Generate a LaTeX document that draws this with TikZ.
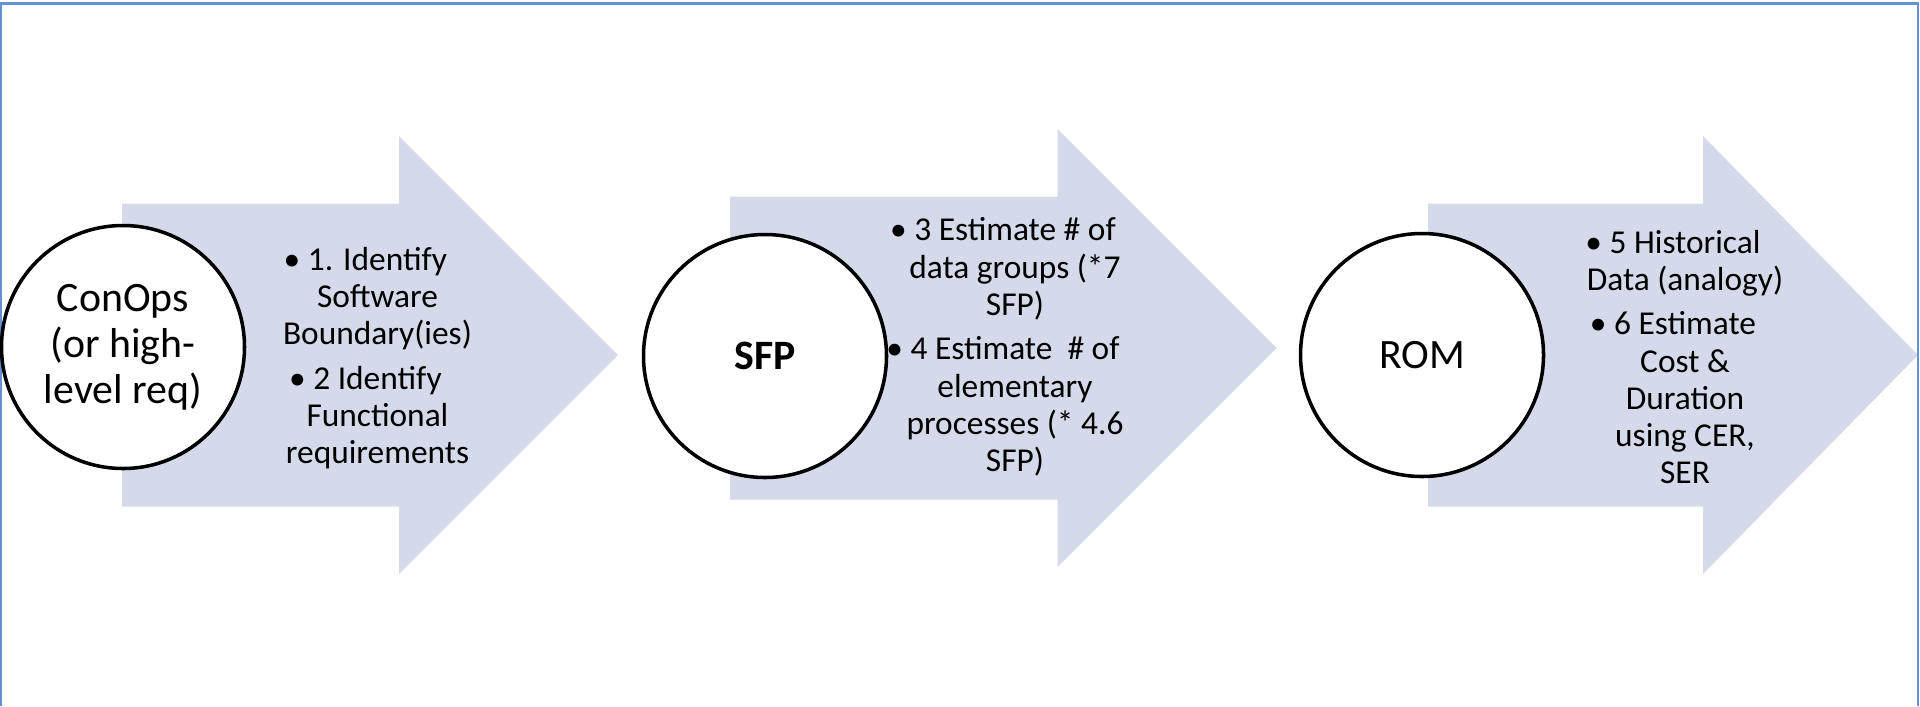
\documentclass[tikz,border=0pt]{standalone}
\usepackage{fontspec}
\setmainfont{Carlito}
\usetikzlibrary{positioning}
\definecolor{framecol}{RGB}{100,145,210}
\definecolor{arrowcol}{RGB}{212,218,234}
\newcommand{\steptext}{\fontsize{9.5}{10.6}\selectfont}
\newcommand{\stagetext}{\fontsize{11.9}{13.1}\selectfont}
\newcommand{\bul}{\llap{\textbullet\ }}
\tikzset{
  stage/.style={circle,draw,line width=1pt,fill=white,minimum size=2.43cm,inner sep=0pt,align=center,font=\stagetext},
  note/.style={align=center,inner sep=0pt,font=\steptext}
}

\begin{document}
\begin{tikzpicture}
\useasboundingbox (0,0) rectangle (19.2,7.06);
% block arrows
\foreach \xl/\xh/\xt/\yc in {1.22/3.99/6.18/3.51, 7.30/10.575/12.765/3.58, 14.28/17.03/19.18/3.51}
  \fill[arrowcol] (\xl,\yc+1.515) -- (\xh,\yc+1.515) -- (\xh,\yc+2.19) -- (\xt,\yc)
    -- (\xh,\yc-2.19) -- (\xh,\yc-1.515) -- (\xl,\yc-1.515) -- cycle;
\draw[framecol,line width=0.6pt] (0.01,0) -- (0.01,7.025) -- (19.18,7.025) -- (19.18,0);
% stages
\node[stage] (conops) at (1.23,3.59) {ConOps\\(or high-\\level req)};
\node[stage,font=\stagetext\bfseries] (sfp) at (7.65,3.50) {SFP};
\node[stage] (rom) at (14.22,3.51) {ROM};
% steps
\node[note] (ident) at (3.775,3.48) {\bul 1. Identify\\Software\\Boundary(ies)\\[2pt]\bul 2 Identify\\Functional\\requirements};
\node[note] (size) at (10.15,3.59) {\bul 3 Estimate \# of\\data groups (*7\\SFP)\\[2pt]\bul 4 Estimate\ \ \# of\\elementary\\processes (* 4.6\\SFP)};
\node[note] (cost) at (16.85,3.49) {\bul 5 Historical\\Data (analogy)\\[2pt]\bul 6 Estimate\\Cost \&\\Duration\\using CER,\\SER};
\end{tikzpicture}
\end{document}
